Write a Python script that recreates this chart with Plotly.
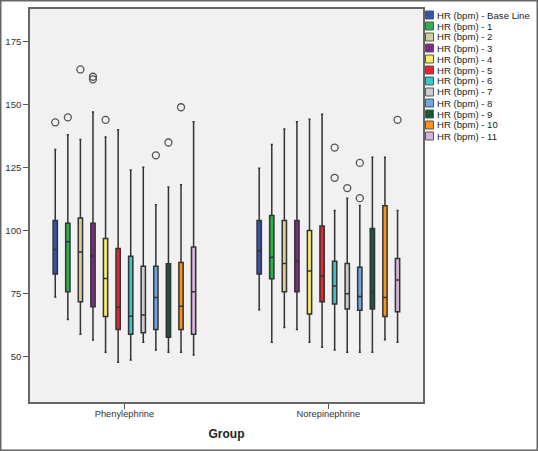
import plotly.graph_objects as go

groups = ["Phenylephrine", "Norepinephrine"]
series_names = ["HR (bpm) - Base Line", "HR (bpm) - 1", "HR (bpm) - 2", "HR (bpm) - 3",
                "HR (bpm) - 4", "HR (bpm) - 5", "HR (bpm) - 6", "HR (bpm) - 7",
                "HR (bpm) - 8", "HR (bpm) - 9", "HR (bpm) - 10", "HR (bpm) - 11"]
colors = ["#3953A4", "#2DB24B", "#D6D098", "#7B2A86", "#F6EE6C", "#E52530",
          "#3DC3CB", "#CDCDCD", "#6FA7DC", "#17583A", "#F7941E", "#D4B5D6"]

# [Phenylephrine, Norepinephrine] per series
lower = [[73.7, 68.6], [64.7, 55.7], [58.9, 61.6], [56.6, 60.8], [51.7, 55.7], [47.8, 53.7],
         [48.7, 52.6], [55.7, 51.7], [52.6, 51.7], [51.7, 51.7], [51.7, 56.7], [50.7, 55.7]]
q1 = [[82.8, 82.8], [75.8, 80.9], [71.8, 75.8], [69.8, 75.8], [65.9, 66.9], [60.8, 71.8],
      [58.9, 70.9], [59.5, 68.9], [60.8, 68.4], [57.7, 68.9], [60.8, 65.9], [58.9, 67.8]]
median = [[92.5, 92.0], [95.6, 89.5], [91.5, 87.0], [90.0, 88.1], [81.0, 84.0], [69.6, 82.0],
          [66.0, 78.0], [66.5, 75.0], [73.5, 73.9], [70.9, 75.5], [70.0, 73.5], [75.8, 80.4]]
q3 = [[104.0, 104.0], [103.0, 106.0], [105.0, 104.0], [103.0, 104.0], [96.9, 100.1], [92.9, 101.9],
      [89.9, 87.9], [85.9, 87.0], [85.9, 85.5], [86.9, 100.9], [87.4, 109.9], [93.5, 89.0]]
upper = [[132.2, 124.8], [138.1, 134.2], [136.2, 140.4], [147.1, 143.2], [137.2, 144.2], [140.1, 146.2],
         [124.1, 108.0], [125.2, 112.9], [110.3, 110.0], [117.3, 129.2], [118.2, 129.2], [143.2, 108.0]]
# outlying values per box (None = no outlier)
outliers = [[[143.0], [None]], [[145.0], [None]], [[164.0], [None]], [[161.1, 160.1], [None]],
            [[144.0], [None]], [[None], [None]], [[None], [133.0, 121.0]], [[None], [116.9]],
            [[129.9], [126.9, 112.9]], [[135.0], [None]], [[149.0], [None]], [[None], [144.0]]]

y_ticks = [50, 75, 100, 125, 150, 175]

W, H = 538, 451
L, R, T, B = 30, 115, 9, 49
PW, PH = W - L - R, H - T - B


def px_x(px):
    return (px - L) / PW


def px_y(py):
    return (H - B - py) / PH


FONT = "Liberation Sans, Arial, sans-serif"

fig = go.Figure()
for i, name in enumerate(series_names):
    fig.add_trace(go.Box(
        name=name,
        x=groups,
        y=outliers[i],
        q1=q1[i], median=median[i], q3=q3[i],
        lowerfence=lower[i], upperfence=upper[i],
        fillcolor=colors[i],
        line=dict(color="#333333", width=1.5),
        whiskerwidth=0.5,
        boxpoints="outliers",
        jitter=0, pointpos=0,
        marker=dict(symbol="circle-open", size=7, color="#555555",
                    line=dict(width=1.3, color="#555555")),
        showlegend=False,
    ))

shapes = []
annotations = []
for i, name in enumerate(series_names):
    cy = 15 + 11.0 * i
    shapes.append(dict(type="rect", xref="paper", yref="paper",
                       x0=px_x(425.5), x1=px_x(433.5), y0=px_y(cy + 4), y1=px_y(cy - 4),
                       fillcolor=colors[i], line=dict(color="#555555", width=1)))
    annotations.append(dict(xref="paper", yref="paper", x=px_x(435), y=px_y(cy),
                            xanchor="left", yanchor="middle", showarrow=False,
                            text=name, font=dict(family=FONT, size=9.6, color="#222222")))

# outer frame of the whole figure
shapes.append(dict(type="rect", xref="paper", yref="paper",
                   x0=px_x(0.75), x1=px_x(W - 0.75), y0=px_y(H - 0.75), y1=px_y(0.75),
                   line=dict(color="#666666", width=1.5), fillcolor="rgba(0,0,0,0)"))

fig.update_layout(
    width=W, height=H,
    margin=dict(l=L, r=R, t=T, b=B, autoexpand=False),
    paper_bgcolor="white",
    plot_bgcolor="#F1F1F1",
    boxmode="group", boxgap=0.26, boxgroupgap=0.66,
    font=dict(family=FONT, size=9.5, color="#333333"),
    shapes=shapes,
    annotations=annotations,
    xaxis=dict(
        type="category", range=[-0.463, 1.464], automargin=False,
        showline=True, mirror=True, linecolor="#666666", linewidth=1.5,
        ticks="outside", ticklen=5, tickcolor="#555555", ticklabelstandoff=-3,
        showgrid=False, tickfont=dict(size=9.3, color="#333333"),
        title=dict(text="<b>Group</b>", font=dict(size=12, color="#222222"), standoff=12),
    ),
    yaxis=dict(
        range=[32, 188], tickvals=y_ticks, automargin=False,
        showline=True, mirror=True, linecolor="#666666", linewidth=1.5,
        ticks="outside", ticklen=5, tickcolor="#555555",
        showgrid=False, zeroline=False, tickfont=dict(size=9.6, color="#333333"),
    ),
)

fig.write_html("out.html", config={"displayModeBar": False},
               post_script="document.body.style.margin='0';")
